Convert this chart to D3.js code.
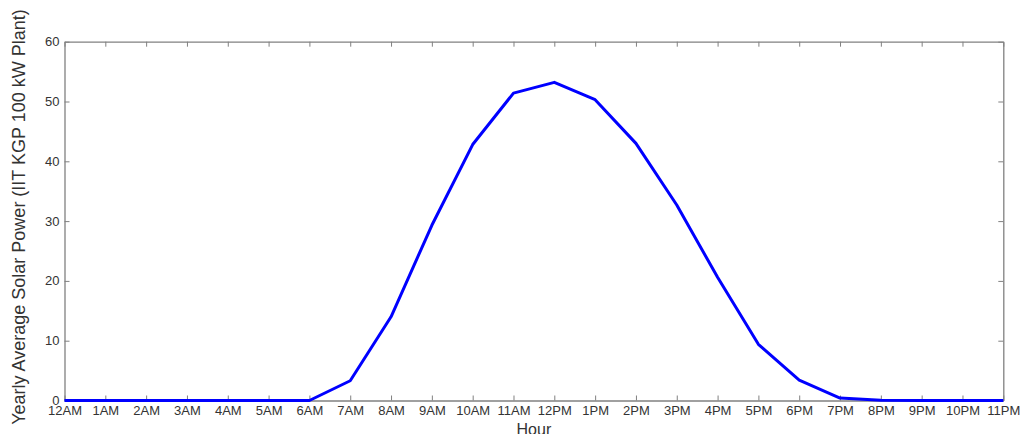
<!DOCTYPE html>
<html><head><meta charset="utf-8">
<script src="https://cdn.jsdelivr.net/npm/d3@7"></script>
<style>body{margin:0;background:#fff;} svg{display:block;}</style>
</head><body>
<svg id="c" width="1020" height="434"></svg>
<script>
const hours = ["12AM","1AM","2AM","3AM","4AM","5AM","6AM","7AM","8AM","9AM","10AM","11AM","12PM","1PM","2PM","3PM","4PM","5PM","6PM","7PM","8PM","9PM","10PM","11PM"];
const power = [0,0,0,0,0,0,0,3.3,14.0,29.3,42.8,51.4,53.2,50.3,43.0,32.7,20.6,9.4,3.4,0.4,0.05,0,0,0];
const yTicks = [0,10,20,30,40,50,60];
const xTitle = "Hour";
const yTitle = "Yearly Average Solar Power (IIT KGP 100 kW Plant)";

const svg = d3.select("#c");
const L=64.5, R=1003.3, T=41.7, B=400.5;
const x = d3.scaleLinear().domain([0,23]).range([L,R]);
const y = d3.scaleLinear().domain([0,60]).range([B,T]);
const axisColor="#808080", textColor="#333";
const font="'Liberation Sans', Arial, Helvetica, sans-serif";

const idx = d3.range(hours.length);
const gb = svg.append("g").attr("transform",`translate(0,${B})`)
  .call(d3.axisBottom(x).tickValues(idx).tickFormat(i=>hours[i]).tickSizeInner(-5).tickSizeOuter(0).tickPadding(5));
const gt = svg.append("g").attr("transform",`translate(0,${T})`)
  .call(d3.axisTop(x).tickValues(idx).tickFormat("").tickSizeInner(-5).tickSizeOuter(0));
const gl = svg.append("g").attr("transform",`translate(${L},0)`)
  .call(d3.axisLeft(y).tickValues(yTicks).tickSizeInner(-5).tickSizeOuter(0).tickPadding(5));
const gr = svg.append("g").attr("transform",`translate(${R},0)`)
  .call(d3.axisRight(y).tickValues(yTicks).tickFormat("").tickSizeInner(-5).tickSizeOuter(0));
[gb,gt,gl,gr].forEach(g=>{
  g.selectAll("path").attr("stroke",axisColor).attr("stroke-width",1.3);
  g.selectAll("line").attr("stroke",axisColor).attr("stroke-width",1);
  g.selectAll("text").attr("fill",textColor).style("font-family",font).style("font-size","13px");
});
gl.selectAll("text").attr("dy","0.3em");

svg.append("path").datum(power)
  .attr("fill","none").attr("stroke","#0000ff").attr("stroke-width",3).attr("stroke-linejoin","round")
  .attr("d", d3.line().x((d,i)=>x(i)).y(d=>y(d)));

svg.append("text").attr("x",(L+R)/2).attr("y",435).attr("text-anchor","middle")
  .attr("fill",textColor).style("font-family",font).style("font-size","16px").text(xTitle);
svg.append("text").attr("transform","translate(25,217) rotate(-90)").attr("text-anchor","middle")
  .attr("fill",textColor).style("font-family",font).style("font-size","18px").text(yTitle);
</script>
</body></html>
